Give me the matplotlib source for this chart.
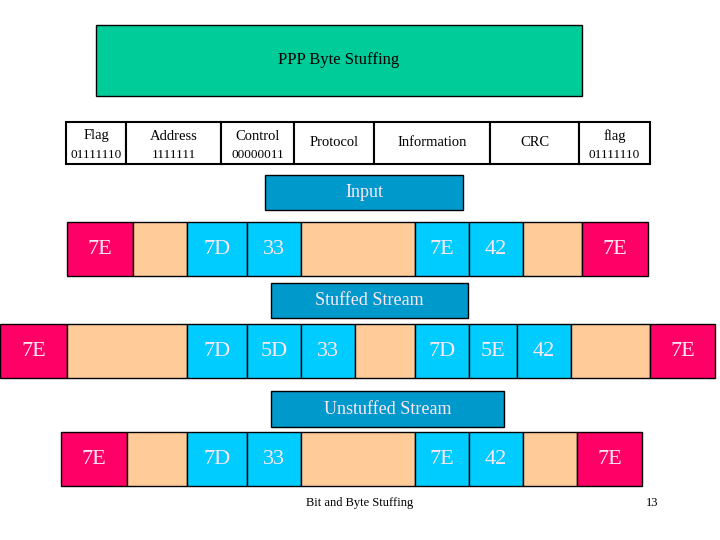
import matplotlib
matplotlib.use("Agg")
import matplotlib.pyplot as plt
from matplotlib.patches import Rectangle

plt.rcParams['font.family'] = ['Liberation Serif', 'DejaVu Serif']

title = "PPP Byte Stuffing"
header_edges = [66, 126, 221, 294, 374, 490, 579, 650]
header_top = ["Flag", "Address", "Control", "Protocol", "Information", "CRC", "flag"]
header_bottom = ["01111110", "1111111", "00000011", "", "", "", "01111110"]

row1_edges = [67, 133, 187, 247, 301, 415, 469, 523, 582, 648]
row1_labels = ["7E", "", "7D", "33", "", "7E", "42", "", "7E"]
row2_edges = [0, 67, 187, 247, 301, 355, 415, 469, 517, 571, 650, 715]
row2_labels = ["7E", "", "7D", "5D", "33", "", "7D", "5E", "42", "", "7E"]
row3_edges = [61, 127, 187, 247, 301, 415, 469, 523, 577, 642]
row3_labels = ["7E", "", "7D", "33", "", "7E", "42", "", "7E"]

RED, PEACH, CYAN = "#FF0066", "#FFCC99", "#00CCFF"

fig = plt.figure(figsize=(7.2, 5.4), dpi=100)
ax = fig.add_axes([0, 0, 1, 1])
ax.set_xlim(0, 720)
ax.set_ylim(540, 0)
ax.axis("off")

def box(x0, x1, y0, y1, fc, text="", size=16, color="#FFE8F4", ec="black", lw=1.0):
    ax.add_patch(Rectangle((x0, y0), x1 - x0, y1 - y0, fc=fc, ec=ec, lw=lw))
    if text:
        ax.text((x0 + x1) / 2, (y0 + y1) / 2, text, ha="center", va="center",
                fontsize=size, color=color)

box(96, 582, 25, 96, "#00CC99", title, size=12, color="black")

for i, (t, b) in enumerate(zip(header_top, header_bottom)):
    x0, x1 = header_edges[i], header_edges[i + 1]
    ax.add_patch(Rectangle((x0, 122), x1 - x0, 42, fc="white", ec="black", lw=1.5))
    xc = (x0 + x1) / 2
    if b:
        ax.text(xc, 136, t, ha="center", va="center", fontsize=10.5)
        ax.text(xc, 155, b, ha="center", va="center", fontsize=9.5)
    else:
        ax.text(xc, 142, t, ha="center", va="center", fontsize=10.5)

def color_for(lbl, i, n):
    if i == 0 or i == n - 1:
        return RED
    return CYAN if lbl else PEACH

def row(edges, labels, y0, y1):
    n = len(labels)
    for i, lbl in enumerate(labels):
        box(edges[i], edges[i + 1], y0, y1, color_for(lbl, i, n), lbl)

row(row1_edges, row1_labels, 222, 276)
row(row2_edges, row2_labels, 324, 378)
row(row3_edges, row3_labels, 432, 486)

box(265, 463, 175, 210, "#0099CC", "Input", size=13)
box(271, 468, 283, 318, "#0099CC", "Stuffed Stream", size=13)
box(271, 504, 391, 427, "#0099CC", "Unstuffed Stream", size=13)

ax.text(360, 503, "Bit and Byte Stuffing", ha="center", va="center", fontsize=9)
ax.text(652, 503, "13", ha="center", va="center", fontsize=9)

fig.savefig("out.png", dpi=100)
